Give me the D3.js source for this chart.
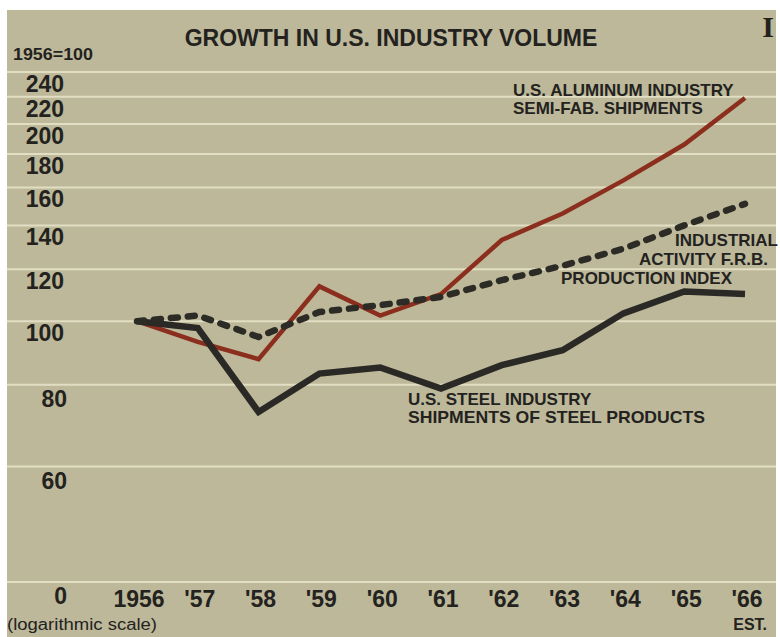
<!DOCTYPE html>
<html>
<head>
<meta charset="utf-8">
<script src="https://cdn.jsdelivr.net/npm/d3@7"></script>
<style>
  html, body { margin: 0; padding: 0; background: #ffffff; }
  svg { display: block; }
  text { font-family: "Liberation Sans", Arial, sans-serif; fill: #23221e; }
</style>
</head>
<body>
<svg id="chart" width="780" height="637"></svg>
<script>
// ---- data ----
const years = [1956, 1957, 1958, 1959, 1960, 1961, 1962, 1963, 1964, 1965, 1966];
const yearLabels = ["1956", "'57", "'58", "'59", "'60", "'61", "'62", "'63", "'64", "'65", "'66"];
const aluminum = [100, 93, 87.5, 113, 102, 110, 133, 146, 164, 186, 219];
const frbIndex = [100, 102, 94.6, 103.3, 105.8, 108.9, 115.5, 121.5, 129, 140, 151];
const steel = [100, 97.6, 72.7, 83.2, 85, 78.9, 85.7, 90.3, 102.8, 111, 110];
const yTickValues = [240, 220, 200, 180, 160, 140, 120, 100, 80, 60, 40];
const yTickLabels = ["240", "220", "200", "180", "160", "140", "120", "100", "80", "60", "0"];

// ---- setup ----
const svg = d3.select("#chart");
const panel = { left: 7, top: 10, right: 776, bottom: 637 };

const x = d3.scaleLinear().domain([1956, 1966]).range([137, 745]);
const y = d3.scaleLog().domain([40, 240]).range([582, 72]);

svg.append("rect")
  .attr("x", panel.left).attr("y", panel.top)
  .attr("width", panel.right - panel.left).attr("height", panel.bottom - panel.top)
  .attr("fill", "#bcb899");

// gridlines
svg.append("g").selectAll("line")
  .data(yTickValues)
  .join("line")
  .attr("x1", panel.left).attr("x2", panel.right)
  .attr("y1", d => y(d)).attr("y2", d => y(d))
  .attr("stroke", "#e2dec3").attr("stroke-width", 2);

// y tick labels (below their gridlines)
svg.append("g").selectAll("text")
  .data(yTickValues)
  .join("text")
  .attr("x", d => d < 100 ? 67 : 64)
  .attr("y", d => y(d) + (d < 100 ? 22 : 20))
  .attr("text-anchor", "end")
  .attr("font-size", 23).attr("font-weight", "bold")
  .text((d, i) => yTickLabels[i]);

// x tick labels
svg.append("g").selectAll("text")
  .data(years)
  .join("text")
  .attr("x", d => x(d) + 2)
  .attr("y", 607)
  .attr("text-anchor", "middle")
  .attr("font-size", 23).attr("font-weight", "bold")
  .text((d, i) => yearLabels[i]);

// lines
const lineGen = d3.line()
  .x((d, i) => x(years[i]))
  .y(d => y(d));

svg.append("path")
  .datum(aluminum)
  .attr("d", lineGen)
  .attr("fill", "none")
  .attr("stroke", "#8c2e1d")
  .attr("stroke-width", 4.5)
  .attr("stroke-linejoin", "miter");

svg.append("path")
  .datum(steel)
  .attr("d", lineGen)
  .attr("fill", "none")
  .attr("stroke", "#2a2926")
  .attr("stroke-width", 6.5)
  .attr("stroke-linejoin", "miter");

svg.append("path")
  .datum(frbIndex)
  .attr("d", lineGen)
  .attr("fill", "none")
  .attr("stroke", "#2c2b25")
  .attr("stroke-width", 6.5)
  .attr("stroke-linecap", "round")
  .attr("stroke-dasharray", "7 10");

// title & axis captions
svg.append("text")
  .attr("x", 391).attr("y", 46)
  .attr("text-anchor", "middle")
  .attr("font-size", 23).attr("font-weight", "bold")
  .text("GROWTH IN U.S. INDUSTRY VOLUME");

svg.append("text")
  .attr("x", 13).attr("y", 60)
  .attr("font-size", 16).attr("font-weight", "bold")
  .attr("textLength", 80).attr("lengthAdjust", "spacingAndGlyphs")
  .text("1956=100");

svg.append("text")
  .attr("x", 7).attr("y", 630)
  .attr("font-size", 16)
  .attr("textLength", 150).attr("lengthAdjust", "spacingAndGlyphs")
  .text("(logarithmic scale)");

svg.append("text")
  .attr("x", 767).attr("y", 630)
  .attr("text-anchor", "end")
  .attr("font-size", 16).attr("font-weight", "bold")
  .text("EST.");

svg.append("text")
  .attr("x", 768).attr("y", 37)
  .attr("text-anchor", "middle")
  .attr("font-size", 30).attr("font-weight", "bold")
  .style("font-family", "'Liberation Serif', serif")
  .text("I");

// series annotations
function label(lines, anchor) {
  const g = svg.append("g");
  lines.forEach(l => {
    const t = g.append("text")
      .attr("x", l[1]).attr("y", l[2])
      .attr("text-anchor", anchor)
      .attr("font-size", 17).attr("font-weight", "bold")
      .text(l[0]);
    if (l[3]) t.attr("textLength", l[3]).attr("lengthAdjust", "spacingAndGlyphs");
  });
}
label([["U.S. ALUMINUM INDUSTRY", 513, 96], ["SEMI-FAB. SHIPMENTS", 513, 114]], "start");
label([["INDUSTRIAL", 778, 246], ["ACTIVITY F.R.B.", 768, 265], ["PRODUCTION INDEX", 732, 284]], "end");
label([["U.S. STEEL INDUSTRY", 408, 405], ["SHIPMENTS OF STEEL PRODUCTS", 408, 423, 297]], "start");
</script>
</body>
</html>
